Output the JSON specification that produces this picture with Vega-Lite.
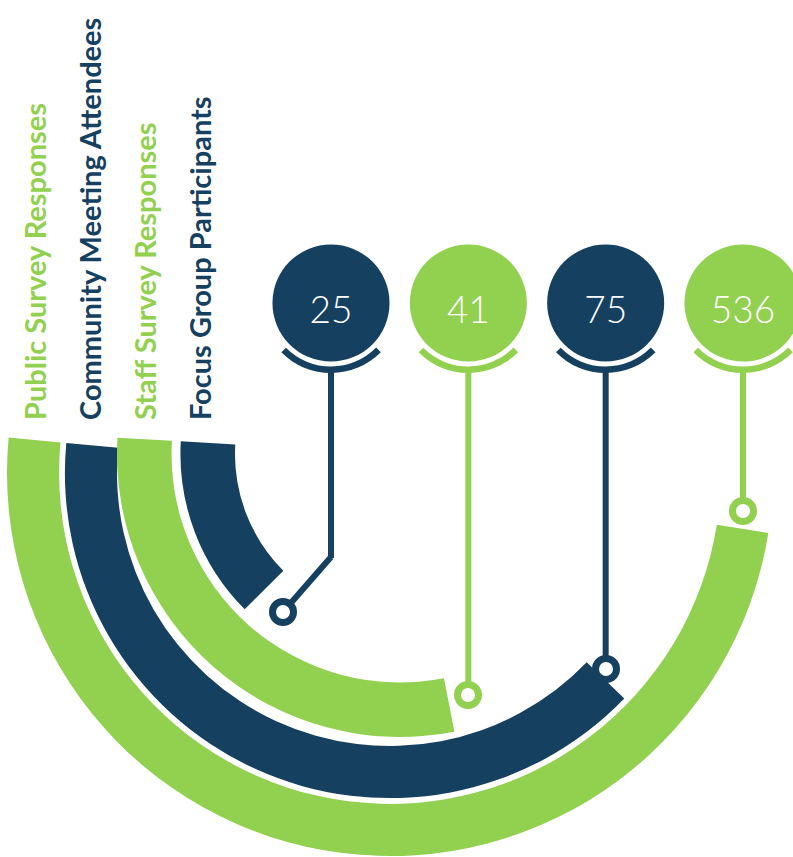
{
  "$schema": "https://vega.github.io/schema/vega-lite/v6.json",
  "width": 793,
  "height": 857,
  "padding": 0,
  "autosize": {"type": "none"},
  "config": {"view": {"stroke": null}},
  "data": {
    "values": [
      {"label": "Public Survey Responses", "value": 536},
      {"label": "Community Meeting Attendees", "value": 75},
      {"label": "Staff Survey Responses", "value": 41},
      {"label": "Focus Group Participants", "value": 25}
    ]
  },
  "resolve": {"scale": {"x": "independent", "y": "independent", "theta": "independent", "radius": "independent", "color": "shared", "stroke": "independent"}},
  "layer": [
    {
      "transform": [{"filter": {"field": "label", "oneOf": ["Public Survey Responses", "Community Meeting Attendees"]}}],
      "mark": {"type": "arc", "stroke": null},
      "encoding": {
        "x": {"datum": 390, "type": "quantitative", "scale": {"domain": [0, 793], "nice": false, "zero": false}, "axis": null},
        "y": {"datum": 473, "type": "quantitative", "scale": {"domain": [0, 857], "reverse": true, "nice": false, "zero": false}, "axis": null},
        "theta": {"field": "value", "type": "quantitative", "stack": null, "scale": {"domain": [0, 25, 41, 75, 536], "range": [4.805, 3.927, 2.948, 2.337, 1.728], "nice": false, "zero": false}},
        "theta2": {"datum": 0},
        "radius": {"field": "label", "type": "nominal", "scale": {"type": "band", "domain": ["Community Meeting Attendees", "Public Survey Responses"], "range": [273, 383], "paddingInner": 0.1, "paddingOuter": 0}},
        "color": {"field": "label", "type": "nominal", "scale": {"domain": ["Public Survey Responses", "Community Meeting Attendees", "Staff Survey Responses", "Focus Group Participants"], "range": ["#92D050", "#15405F", "#92D050", "#15405F"]}, "legend": null}
      }
    },
    {
      "transform": [{"filter": {"field": "label", "oneOf": ["Staff Survey Responses", "Focus Group Participants"]}}],
      "mark": {"type": "arc", "stroke": null},
      "encoding": {
        "x": {"datum": 400, "type": "quantitative", "scale": {"domain": [0, 793], "nice": false, "zero": false}, "axis": null},
        "y": {"datum": 454, "type": "quantitative", "scale": {"domain": [0, 857], "reverse": true, "nice": false, "zero": false}, "axis": null},
        "theta": {"field": "value", "type": "quantitative", "stack": null, "scale": {"domain": [0, 25, 41, 75, 536], "range": [4.770, 3.927, 2.948, 2.337, 1.728], "nice": false, "zero": false}},
        "theta2": {"datum": 0},
        "radius": {"field": "label", "type": "nominal", "scale": {"type": "band", "domain": ["Focus Group Participants", "Staff Survey Responses"], "range": [165, 283], "paddingInner": 0.14, "paddingOuter": 0}},
        "color": {"field": "label", "type": "nominal", "legend": null}
      }
    },
    {
      "mark": {"type": "rule", "strokeWidth": 6},
      "encoding": {
        "x": {"field": "label", "type": "nominal", "scale": {"type": "point", "domain": ["Focus Group Participants", "Staff Survey Responses", "Community Meeting Attendees", "Public Survey Responses"], "range": [331, 743], "padding": 0}, "axis": null},
        "y": {"field": "value", "type": "quantitative", "scale": {"domain": [0, 25, 41, 75, 536], "range": [370, 558, 695, 669, 511], "nice": false, "zero": false}, "axis": null},
        "y2": {"datum": 0},
        "color": {"field": "label", "type": "nominal", "legend": null}
      }
    },
    {
      "transform": [{"filter": {"field": "label", "equal": "Focus Group Participants"}}],
      "mark": {"type": "rule", "strokeWidth": 6},
      "encoding": {
        "x": {"datum": 331, "type": "quantitative", "scale": {"domain": [0, 793], "nice": false, "zero": false}, "axis": null},
        "x2": {"datum": 283},
        "y": {"datum": 557, "type": "quantitative", "scale": {"domain": [0, 857], "reverse": true, "nice": false, "zero": false}, "axis": null},
        "y2": {"datum": 612},
        "color": {"field": "label", "type": "nominal", "legend": null}
      }
    },
    {
      "mark": {"type": "point", "shape": "circle", "size": 441, "filled": true, "fill": "white", "strokeWidth": 7, "opacity": 1},
      "encoding": {
        "x": {"field": "value", "type": "quantitative", "scale": {"domain": [25, 41, 75, 536], "range": [283, 468, 606, 743], "nice": false, "zero": false}, "axis": null},
        "y": {"field": "value", "type": "quantitative", "scale": {"domain": [25, 41, 75, 536], "range": [612, 695, 669, 511], "nice": false, "zero": false}, "axis": null},
        "stroke": {"field": "label", "type": "nominal", "scale": {"domain": ["Public Survey Responses", "Community Meeting Attendees", "Staff Survey Responses", "Focus Group Participants"], "range": ["#92D050", "#15405F", "#92D050", "#15405F"]}, "legend": null}
      }
    },
    {
      "mark": {"type": "point", "shape": "circle", "size": 13700, "filled": true, "opacity": 1, "strokeWidth": 0},
      "encoding": {
        "x": {"field": "label", "type": "nominal", "scale": {"type": "point", "domain": ["Focus Group Participants", "Staff Survey Responses", "Community Meeting Attendees", "Public Survey Responses"], "range": [331, 743], "padding": 0}, "axis": null},
        "y": {"datum": 303, "type": "quantitative", "scale": {"domain": [0, 857], "reverse": true, "nice": false, "zero": false}, "axis": null},
        "color": {"field": "label", "type": "nominal", "legend": null}
      }
    },
    {
      "mark": {"type": "arc", "radius": 70, "radius2": 63.5, "theta": 2.35, "theta2": 3.93},
      "encoding": {
        "x": {"field": "label", "type": "nominal", "scale": {"type": "point", "domain": ["Focus Group Participants", "Staff Survey Responses", "Community Meeting Attendees", "Public Survey Responses"], "range": [331, 743], "padding": 0}, "axis": null},
        "y": {"datum": 303, "type": "quantitative", "scale": {"domain": [0, 857], "reverse": true, "nice": false, "zero": false}, "axis": null},
        "color": {"field": "label", "type": "nominal", "legend": null}
      }
    },
    {
      "mark": {"type": "text", "font": "Lato", "fontSize": 37, "fontWeight": 300, "color": "white", "align": "center", "baseline": "alphabetic"},
      "encoding": {
        "x": {"field": "label", "type": "nominal", "scale": {"type": "point", "domain": ["Focus Group Participants", "Staff Survey Responses", "Community Meeting Attendees", "Public Survey Responses"], "range": [331, 743], "padding": 0}, "axis": null},
        "y": {"datum": 323, "type": "quantitative", "scale": {"domain": [0, 857], "reverse": true, "nice": false, "zero": false}, "axis": null},
        "text": {"field": "value", "type": "quantitative"}
      }
    },
    {
      "mark": {"type": "text", "font": "Lato", "fontSize": 29, "fontWeight": "bold", "angle": 270, "align": "left", "baseline": "middle"},
      "encoding": {
        "x": {"field": "label", "type": "nominal", "scale": {"type": "point", "domain": ["Public Survey Responses", "Community Meeting Attendees", "Staff Survey Responses", "Focus Group Participants"], "range": [37, 202], "padding": 0}, "axis": null},
        "y": {"datum": 420, "type": "quantitative", "scale": {"domain": [0, 857], "reverse": true, "nice": false, "zero": false}, "axis": null},
        "text": {"field": "label", "type": "nominal"},
        "color": {"field": "label", "type": "nominal", "legend": null}
      }
    }
  ]
}
